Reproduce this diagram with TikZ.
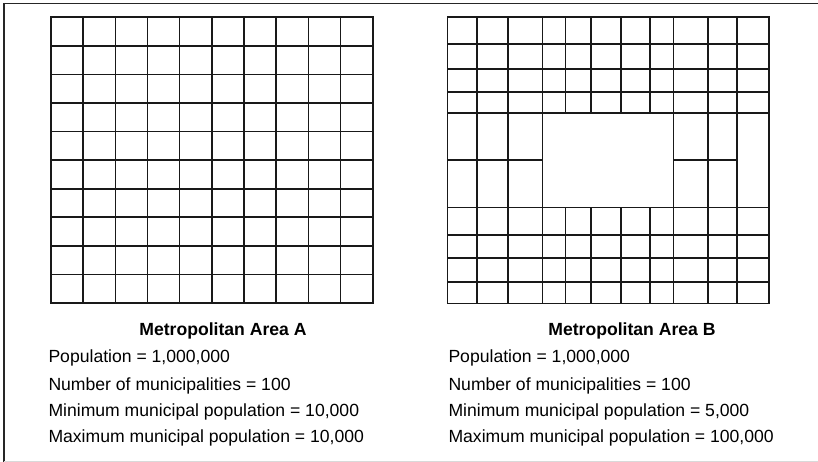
\documentclass[tikz,border=0pt]{standalone}
\usepackage{fontspec}
\setmainfont{Liberation Sans}
\begin{document}
\begin{tikzpicture}[x=1pt,y=-1pt,
  gridline/.style={line width=1.6pt, black!90, line cap=rect},
  frameline/.style={line width=1.5pt, black!85},
  lbl/.style={anchor=base west, inner sep=0pt, font=\fontsize{17.6}{20}\selectfont},
  ttl/.style={anchor=base, inner sep=0pt, font=\fontsize{17.6}{20}\selectfont\bfseries}]
\useasboundingbox (0,0) rectangle (818,462);
% frame
\draw[frameline] (4,462) -- (4,3.5) -- (818,3.5);
\draw[line width=1pt, black!15] (4,461) -- (818,461);
% grid A
\foreach \i in {0,...,10} {
  \draw[gridline] ({51+\i*32.17},17.3) -- ({51+\i*32.17},303);
  \draw[gridline] (51,{17.3+\i*28.57}) -- (372.7,{17.3+\i*28.57});
}
% grid B
\draw[gridline] (447.3,17.3) rectangle (769,303.3);
\foreach \y in {44,69,92,113,207.7,235,258,281.7}
  \draw[gridline] (447.3,\y) -- (769,\y);
\draw[gridline] (447.3,160.3) -- (542.3,160.3);
\draw[gridline] (673.3,160.3) -- (736.7,160.3);
\foreach \x in {476.7,508,542.3,673.3,707.7,736.7}
  \draw[gridline] (\x,17.3) -- (\x,303.3);
\foreach \x in {565.3,590.7,620.7,650} {
  \draw[gridline] (\x,17.3) -- (\x,113);
  \draw[gridline] (\x,207.7) -- (\x,303.3);
}
% texts A
\node[ttl] (ta) at (223,335.5) {Metropolitan Area A};
\node[lbl] (a1) at (48.3,362.8) {Population = 1,000,000};
\node[lbl] (a2) at (48.3,390) {Number of municipalities = 100};
\node[lbl] (a3) at (48.3,416.5) {Minimum municipal population = 10,000};
\node[lbl] (a4) at (48.3,442.5) {Maximum municipal population = 10,000};
% texts B
\node[ttl] (tb) at (632,335.5) {Metropolitan Area B};
\node[lbl] (b1) at (448.3,362.8) {Population = 1,000,000};
\node[lbl] (b2) at (448.3,390) {Number of municipalities = 100};
\node[lbl] (b3) at (448.3,416.5) {Minimum municipal population = 5,000};
\node[lbl] (b4) at (448.3,442.5) {Maximum municipal population = 100,000};
\end{tikzpicture}
\end{document}
